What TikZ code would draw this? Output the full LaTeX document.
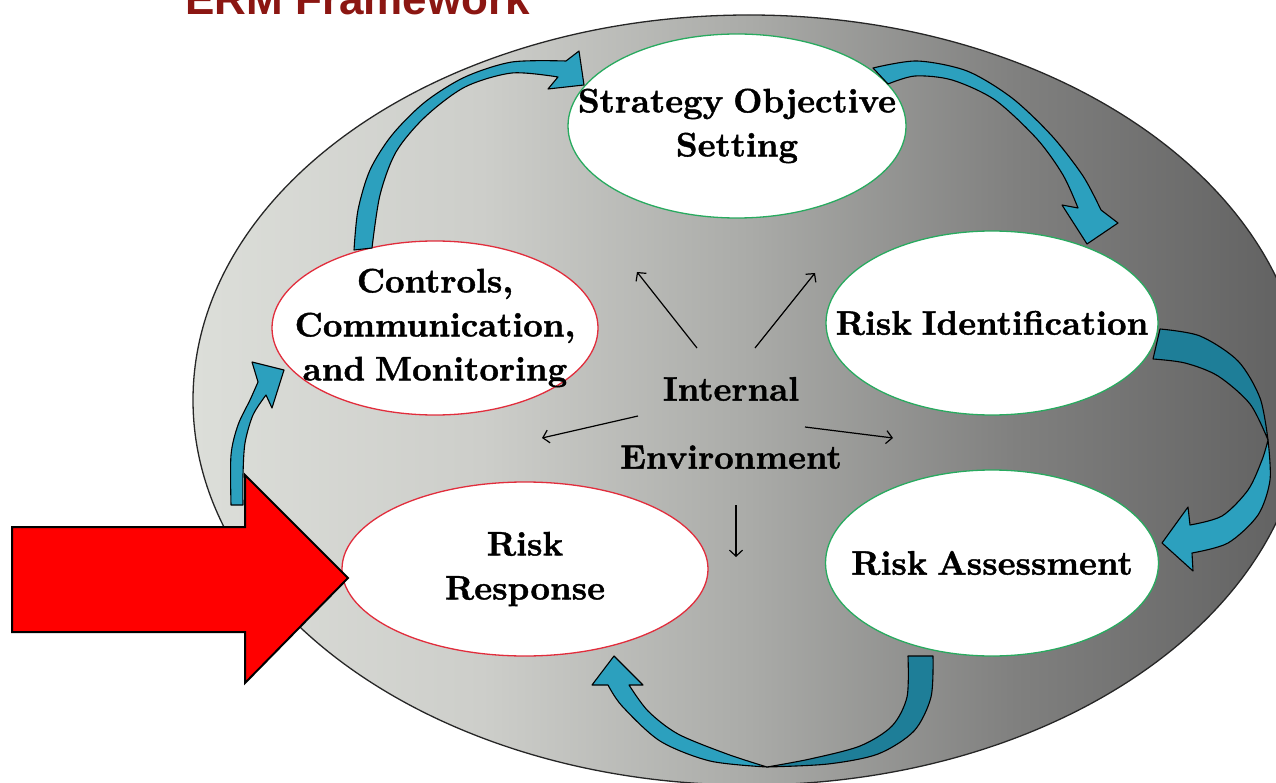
\documentclass[tikz,border=0pt]{standalone}
\usepackage{fontspec}
\usetikzlibrary{shapes.geometric,arrows.meta}
\newfontfamily\titlefont{Liberation Sans}
\newfontfamily\heavyfont{lmroman10-bold.otf}[FakeBold=1.2, WordSpace=0.75]

\definecolor{ermred}{RGB}{139,22,18}
\definecolor{flowblue}{RGB}{44,160,190}
\definecolor{flowdark}{RGB}{30,126,152}
\definecolor{ringgreen}{RGB}{40,170,95}
\definecolor{ringred}{RGB}{225,45,60}
\definecolor{bgA}{RGB}{220,222,217}
\definecolor{bgB}{RGB}{205,206,202}
\definecolor{bgC}{RGB}{170,171,168}
\definecolor{bgD}{RGB}{128,128,127}
\definecolor{bgE}{RGB}{96,96,96}

% left-to-right grey ramp of the environment disc
\pgfdeclarehorizontalshading{envshade}{100bp}{%
  color(0bp)=(bgA); color(25bp)=(bgA); color(38bp)=(bgB);
  color(50bp)=(bgC); color(62bp)=(bgD); color(75bp)=(bgE); color(100bp)=(bgE)}

\begin{document}
\begin{tikzpicture}[x=1pt,y=-1pt,
  stage/.style={ellipse, fill=white, line width=1.3pt, inner sep=0pt},
  stagetext/.style={font=\heavyfont\bfseries\fontsize{34}{44}\selectfont, align=center, inner sep=0pt},
  bluearrow/.style={fill=flowblue, draw=black, line width=1.1pt, line join=round},
  backarrow/.style={fill=flowdark, draw=black, line width=1.1pt, line join=round},
  ray/.style={draw=black, line width=1.2pt, -{Straight Barb[length=6pt,width=13pt]}}
]
\useasboundingbox (0,0) rectangle (1276,783);

% title, running off the top edge
\node[anchor=base west, inner sep=0pt, text=ermred,
      font=\titlefont\bfseries\fontsize{44}{48}\selectfont] (title) at (185,15) {ERM Framework};

% environment disc
\shadedraw[shading=envshade, draw=black!85, line width=1.3pt]
  (749,400) ellipse [x radius=556pt, y radius=385pt];

% process stages
\node[stage, draw=ringgreen, minimum width=338pt, minimum height=184pt,
      label={[stagetext]center:{Strategy Objective\\Setting}}] (strategy) at (737,126) {};
\node[stage, draw=ringgreen, minimum width=332pt, minimum height=184pt,
      label={[stagetext]center:{Risk Identification}}] (identify) at (992,323) {};
\node[stage, draw=ringgreen, minimum width=333pt, minimum height=186pt,
      label={[stagetext]center:{Risk Assessment}}] (assess) at (992,563) {};
\node[stage, draw=ringred, minimum width=366pt, minimum height=174pt,
      label={[stagetext]center:{Risk\\Response}}] (respond) at (525,569) {};
\node[stage, draw=ringred, minimum width=326pt, minimum height=174pt,
      label={[stagetext]center:{Controls,\\Communication,\\and Monitoring}}] (controls) at (435,328) {};

% curved flow arrows
% controls -> strategy
\filldraw[bluearrow]
  plot[smooth] coordinates {(354,250) (358,210) (370,170) (392,135) (425,102) (465,77) (512,62) (566,61)}
  -- (579,51) -- (584,85) -- (548,89)
  -- plot[smooth] coordinates {(558,77) (512,73) (465,87) (425,117) (396,152) (380,195) (372,248)}
  -- cycle;
% strategy -> identification
\filldraw[bluearrow]
  plot[smooth] coordinates {(873,68) (917,61) (967,71) (1012,98) (1052,136) (1083,176) (1101,210)}
  -- (1118,223) -- (1087,244) -- (1062,205)
  -- plot[smooth] coordinates {(1078,208) (1063,175) (1037,139) (995,100) (952,80) (915,76) (888,84)}
  -- cycle;
% identification -> assessment (back face, then front face)
\filldraw[backarrow]
  plot[smooth] coordinates {(1160,329) (1200,336) (1238,361) (1260,398) (1268,440)}
  -- plot[smooth] coordinates {(1268,440) (1250,404) (1218,376) (1185,363) (1153,359)}
  -- cycle;
\filldraw[bluearrow]
  plot[smooth] coordinates {(1268,440) (1270,480) (1258,515) (1228,543) (1192,553)}
  -- (1193,571) -- (1162,543) -- (1188,507)
  -- plot[smooth] coordinates {(1190,525) (1222,516) (1248,490) (1262,460) (1268,440)}
  -- cycle;
% assessment -> response (back face, then front face)
\filldraw[backarrow]
  plot[smooth] coordinates {(933,656) (931,697) (914,731) (878,754) (828,764) (767,767)}
  -- plot[smooth] coordinates {(767,767) (810,759) (860,746) (892,726) (907,697) (908,656)}
  -- cycle;
\filldraw[bluearrow]
  plot[smooth] coordinates {(767,767) (710,761) (660,741) (622,706) (608,685)}
  -- (592,685) -- (614,656) -- (643,685)
  -- plot[smooth] coordinates {(629,685) (648,711) (678,734) (727,754) (767,767)}
  -- cycle;
% response -> controls
\filldraw[bluearrow]
  plot[smooth] coordinates {(231,505) (231,455) (238,425) (250,400) (258,382)}
  -- (252,362) -- (284,370) -- (272,408)
  -- plot[smooth] coordinates {(266,395) (253,415) (245,443) (243,475) (243,505)}
  -- cycle;

% pointer to the risk response stage
\filldraw[fill=red, draw=black, line width=2pt, line join=miter]
  (12,527) -- (245,527) -- (245,475) -- (348,578) -- (245,683) -- (245,632) -- (12,632) -- cycle;

% internal environment and its influence rays
\node[stagetext, font=\heavyfont\bfseries\fontsize{34}{68}\selectfont] (env) at (731,423) {Internal\\Environment};
\coordinate (ulS) at (697,348); \coordinate (ulE) at (637,272);
\coordinate (urS) at (755,348); \coordinate (urE) at (815,273);
\coordinate (lS)  at (638,416); \coordinate (lE)  at (542,438);
\coordinate (rS)  at (805,427); \coordinate (rE)  at (893,438);
\coordinate (dS)  at (736,505); \coordinate (dE)  at (736,557);
\draw[ray] (ulS) -- (ulE);
\draw[ray] (urS) -- (urE);
\draw[ray] (lS) -- (lE);
\draw[ray] (rS) -- (rE);
\draw[ray] (dS) -- (dE);
\end{tikzpicture}
\end{document}
